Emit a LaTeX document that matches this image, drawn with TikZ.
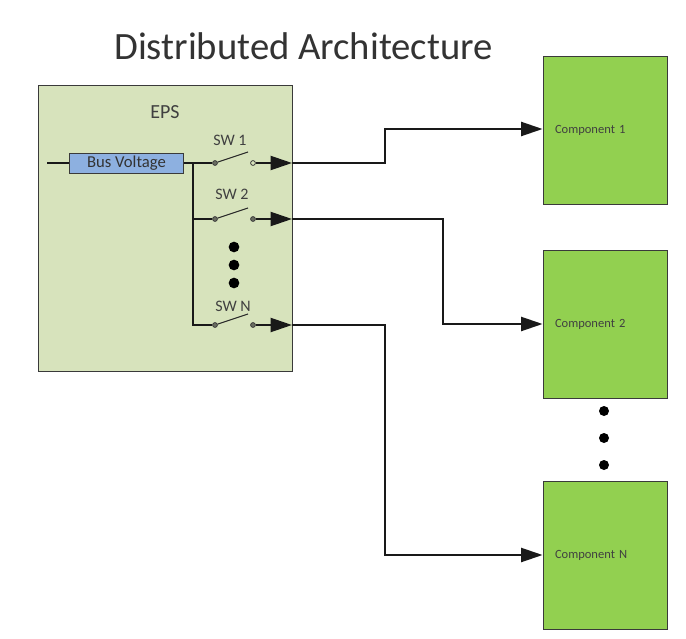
\documentclass[tikz,border=0pt]{standalone}
\usepackage{fontspec}
\setmainfont{Carlito}
\usetikzlibrary{arrows.meta}
\definecolor{epsfill}{HTML}{D7E3BC}
\definecolor{compfill}{HTML}{92D050}
\definecolor{busfill}{HTML}{8DB0E0}
\definecolor{edge}{HTML}{3A3A3A}
\definecolor{txt}{HTML}{404040}
\tikzset{
  epsbox/.style={draw=edge,line width=0.7pt,fill=epsfill,minimum width=191pt,minimum height=215pt,inner sep=0pt},
  compbox/.style={draw=edge,line width=0.7pt,fill=compfill,minimum width=93pt,minimum height=111pt,inner ysep=0pt,inner xsep=9pt,text width=75pt,align=left,font=\fontsize{9.4}{11}\selectfont,text=txt},
  busbox/.style={draw=edge,line width=0.7pt,fill=busfill,minimum width=86pt,minimum height=15pt,inner sep=0pt,font=\fontsize{12.5}{14}\selectfont,text=black!80},
  lab/.style={inner sep=0pt,font=\fontsize{12}{14}\selectfont,text=txt},
  term/.style={circle,draw=edge,line width=0.6pt,fill=epsfill,minimum size=3.6pt,inner sep=0pt},
  termdark/.style={term,fill=edge!70!epsfill},
  dotmark/.style={circle,fill=black,minimum size=8pt,inner sep=0pt},
  wire/.style={draw=black!90,line width=1.5pt},
  thin wire/.style={draw=black!85,line width=0.8pt},
  headwire/.style={wire,-{Triangle[length=16pt,width=10.5pt]}},
}
\begin{document}
\begin{tikzpicture}[x=0.75pt,y=-0.75pt]
\useasboundingbox (0,0) rectangle (686,639);
\fill[white] (0,0) rectangle (686,639);
\node[inner sep=0pt,font=\fontsize{29}{33}\selectfont,text=black!80] (title) at (303.5,46) {Distributed Architecture};
\node[epsbox] (eps) at (165.5,228.5) {};
\node[lab,font=\fontsize{15}{17}\selectfont] (epslabel) at (165,112) {EPS};
\node[busbox] (bus) at (126.5,163) {Bus Voltage};
\coordinate (busin) at (47,163);
\coordinate (junc1) at (193,163);
\coordinate (juncn) at (193,325);
\coordinate (junc2) at (193,219);
\node[lab] (sw1label) at (230,140) {SW 1};
\node[lab] (sw2label) at (232,194) {SW 2};
\node[lab] (swnlabel) at (233,306) {SW N};
\node[termdark] (a1) at (215,163) {};
\node[term] (b1) at (253,163) {};
\node[termdark] (a2) at (215,219) {};
\node[termdark] (b2) at (253,219) {};
\node[termdark] (an) at (215,325) {};
\node[termdark] (bn) at (253,325) {};
\coordinate (t1) at (248,152);
\coordinate (t2) at (248,208);
\coordinate (tn) at (248,314);
\coordinate (o1) at (292,163);
\coordinate (o2) at (292,219);
\coordinate (on) at (292,325);
\node[dotmark] (d1) at (234,247) {};
\node[dotmark] (d2) at (234,265) {};
\node[dotmark] (d3) at (234,283) {};
\node[compbox] (c1) at (605,130) {\raisebox{-2pt}{Component 1}};
\node[compbox] (c2) at (605,324) {\raisebox{-2pt}{Component 2}};
\node[compbox] (cn) at (605,555) {\raisebox{-2pt}{Component N}};
\node[dotmark,minimum size=7.5pt] (e1) at (604,411) {};
\node[dotmark,minimum size=7.5pt] (e2) at (604,438) {};
\node[dotmark,minimum size=7.5pt] (e3) at (604,465) {};
% bus
\draw[wire] (busin) -- (bus.west);
\draw[wire] (bus.east) -- (a1.west);
\draw[wire] (junc1) -- (juncn) -- (an.west);
\draw[wire] (junc2) -- (a2.west);
% switches
\draw[thin wire] (a1) -- (t1);
\draw[thin wire] (a2) -- (t2);
\draw[thin wire] (an) -- (tn);
% outputs
\draw[headwire] (b1.east) -- (o1);
\draw[headwire] (b2.east) -- (o2);
\draw[headwire] (bn.east) -- (on);
\draw[headwire] (o1) -- (385,163) -- (385,129) -- (c1.west |- 0,129);
\draw[headwire] (o2) -- (443,219) -- (443,324) -- (c2.west);
\draw[headwire] (on) -- (385,325) -- (385,555) -- (cn.west);
\end{tikzpicture}
\end{document}
